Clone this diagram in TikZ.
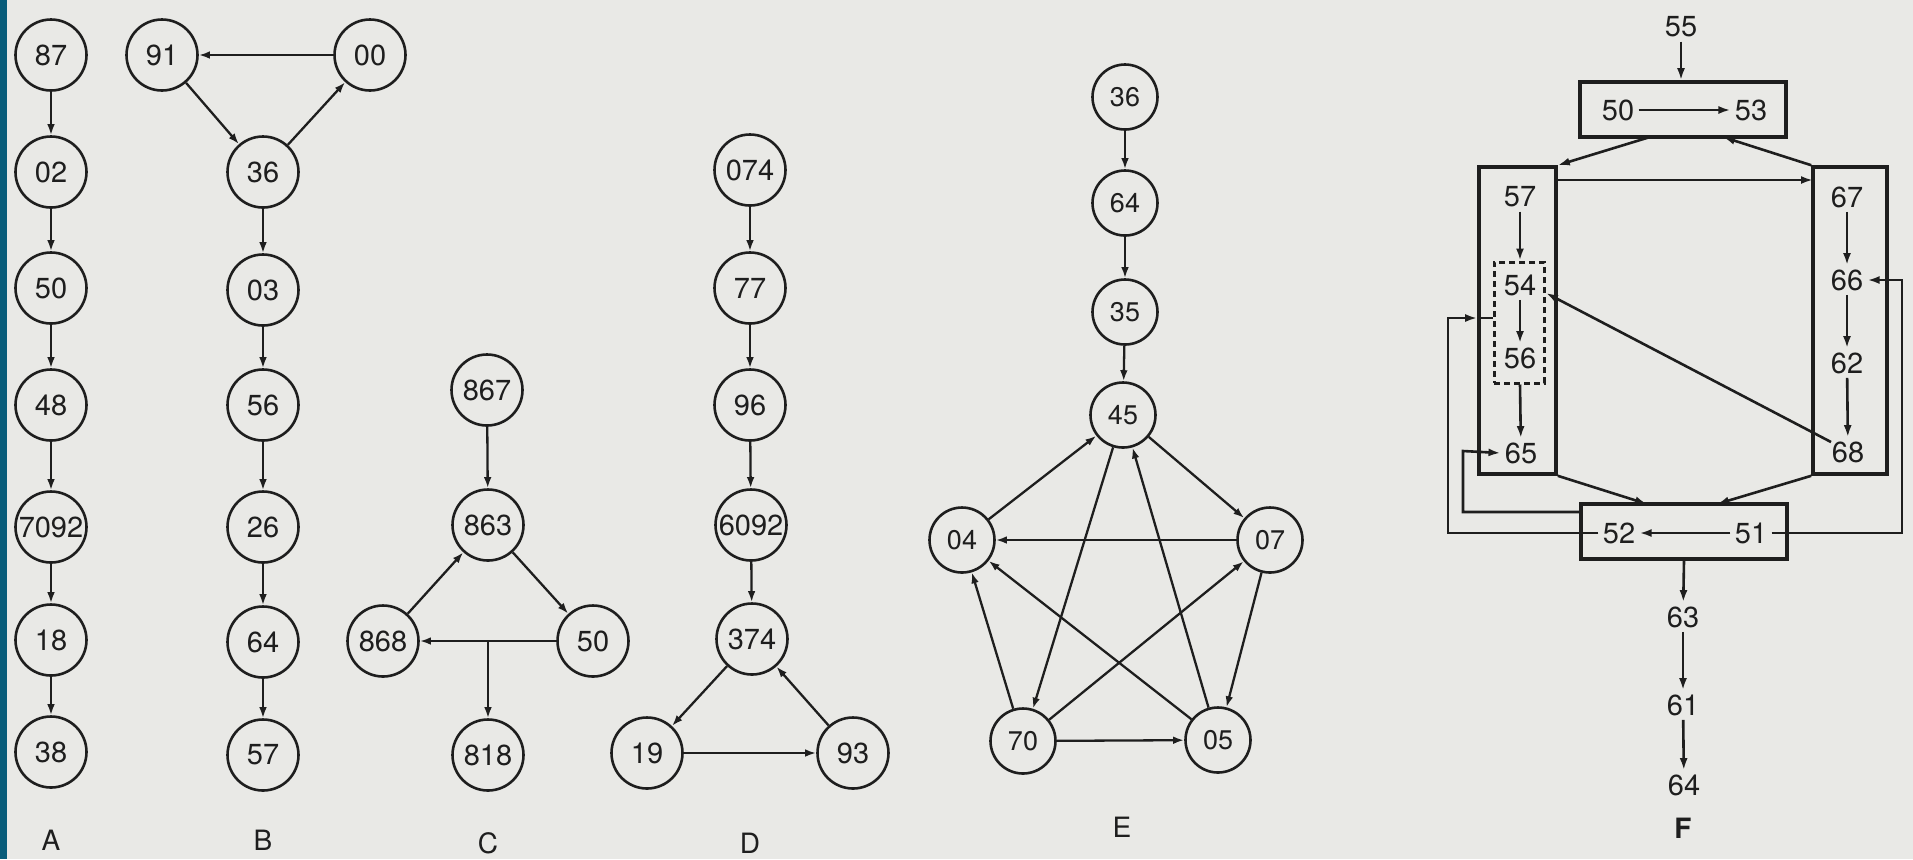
\documentclass[tikz,border=0pt]{standalone}
\usepackage{fontspec}
\setmainfont{TeX Gyre Heros}
\usetikzlibrary{arrows.meta}
\definecolor{paper}{RGB}{233,233,230}
\definecolor{ink}{RGB}{30,30,30}
\definecolor{stripc}{RGB}{8,92,122}
\newcommand\dgfont{\fontsize{14.5}{14.5}\selectfont}
\newcommand\egfont{\fontsize{13.5}{13.5}\selectfont}
\newcommand\ffgfont{\fontsize{14.5}{14.5}\selectfont}
\newcommand\lbfont{\fontsize{14}{14}\selectfont}
\tikzset{
  cn/.style={circle,draw=ink,line width=1.3pt,minimum size=35.5pt,inner sep=0pt,font=\dgfont,text=ink},
  en/.style={cn,minimum size=32.5pt,font=\egfont},
  ft/.style={inner sep=2pt,font=\ffgfont,text=ink},
  lab/.style={font=\lbfont,text=ink},
  edge/.style={draw=ink,line width=1.15pt,-{Latex[length=5.5pt,width=3.8pt]}},
  fbox/.style={draw=ink,line width=1.8pt,inner sep=0pt},
  fedge/.style={draw=ink,line width=1.3pt,-{Latex[length=6pt,width=4pt]}},
  fline/.style={draw=ink,line width=1.3pt},
}
\begin{document}
\begin{tikzpicture}[x=0.5pt,y=-0.5pt]
\useasboundingbox (0,0) rectangle (1913,859);
\fill[paper] (0,0) rectangle (1913,859);
\fill[stripc] (0,0) rectangle (7,859);

% ---------- A ----------
\node[cn] (a87) at (51,55) {87};
\node[cn] (a02) at (51,172) {02};
\node[cn] (a50) at (51,288) {50};
\node[cn] (a48) at (51,405) {48};
\node[cn] (a7092) at (51,527) {7092};
\node[cn] (a18) at (51,640) {18};
\node[cn] (a38) at (51,752) {38};
\node[lab] (la) at (51,840) {A};
\draw[edge] (a87) -- (a02);
\draw[edge] (a02) -- (a50);
\draw[edge] (a50) -- (a48);
\draw[edge] (a48) -- (a7092);
\draw[edge] (a7092) -- (a18);
\draw[edge] (a18) -- (a38);

% ---------- B ----------
\node[cn] (b91) at (162,55) {91};
\node[cn] (b00) at (370,55) {00};
\node[cn] (b36) at (263,172) {36};
\node[cn] (b03) at (263,290) {03};
\node[cn] (b56) at (263,405) {56};
\node[cn] (b26) at (263,527) {26};
\node[cn] (b64) at (263,642) {64};
\node[cn] (b57) at (263,755) {57};
\node[lab] (lb) at (263,840) {B};
\draw[edge] (b00) -- (b91);
\draw[edge] (b91) -- (b36);
\draw[edge] (b36) -- (b00);
\draw[edge] (b36) -- (b03);
\draw[edge] (b03) -- (b56);
\draw[edge] (b56) -- (b26);
\draw[edge] (b26) -- (b64);
\draw[edge] (b64) -- (b57);

% ---------- C ----------
\node[cn] (c867) at (487,390) {867};
\node[cn] (c863) at (488,525) {863};
\node[cn] (c868) at (383,641) {868};
\node[cn] (c50) at (593,641) {50};
\node[cn] (c818) at (488,755) {818};
\node[lab] (lc) at (488,843) {C};
\coordinate (cj) at (c863 |- c50);
\draw[edge] (c867) -- (c863);
\draw[edge] (c868) -- (c863);
\draw[edge] (c863) -- (c50);
\draw[edge] (c50) -- (c868);
\draw[edge] (cj) -- (c818);

% ---------- D ----------
\node[cn] (d074) at (750,170) {074};
\node[cn] (d77) at (750,288) {77};
\node[cn] (d96) at (750,405) {96};
\node[cn] (d6092) at (751,525) {6092};
\node[cn] (d374) at (752,639) {374};
\node[cn] (d19) at (647,753) {19};
\node[cn] (d93) at (853,753) {93};
\node[lab] (ld) at (750,843) {D};
\draw[edge] (d074) -- (d77);
\draw[edge] (d77) -- (d96);
\draw[edge] (d96) -- (d6092);
\draw[edge] (d6092) -- (d374);
\draw[edge] (d374) -- (d19);
\draw[edge] (d19) -- (d93);
\draw[edge] (d93) -- (d374);

% ---------- E ----------
\node[en] (e36) at (1125,97) {36};
\node[en] (e64) at (1125,203) {64};
\node[en] (e35) at (1125,312) {35};
\node[en] (e45) at (1123,415) {45};
\node[en] (e04) at (962,540) {04};
\node[en] (e07) at (1270,540) {07};
\node[en] (e70) at (1023,741) {70};
\node[en] (e05) at (1218,740) {05};
\node[lab] (le) at (1122,827) {E};
\draw[edge] (e36) -- (e64);
\draw[edge] (e64) -- (e35);
\draw[edge] (e35) -- (e45);
\draw[edge] (e04) -- (e45);
\draw[edge] (e45) -- (e07);
\draw[edge] (e07) -- (e04);
\draw[edge] (e45) -- (e70);
\draw[edge] (e05) -- (e45);
\draw[edge] (e70) -- (e04);
\draw[edge] (e05) -- (e04);
\draw[edge] (e70) -- (e07);
\draw[edge] (e07) -- (e05);
\draw[edge] (e70) -- (e05);

% ---------- F ----------
\node[fbox,minimum width=103pt,minimum height=27.5pt] (ftop) at (1683,109.5) {};
\node[fbox,minimum width=38.5pt,minimum height=153.5pt] (flb) at (1517.5,320.5) {};
\node[fbox,minimum width=37pt,minimum height=153.5pt] (frb) at (1850,320.5) {};
\node[fbox,dashed,line width=1.5pt,dash pattern=on 3pt off 2pt,minimum width=25pt,minimum height=60.5pt] (fdb) at (1519,322.5) {};
\node[fbox,minimum width=103pt,minimum height=27.5pt] (fbot) at (1684,531.5) {};

\node[ft] (f55) at (1681,27) {55};
\node[ft] (f50) at (1618,110) {50};
\node[ft] (f53) at (1751,110) {53};
\node[ft] (f57) at (1520,197) {57};
\node[ft] (f54) at (1520,285) {54};
\node[ft] (f56) at (1520,358) {56};
\node[ft] (f65) at (1521,453) {65};
\node[ft] (f67) at (1847,197) {67};
\node[ft] (f66) at (1847,280) {66};
\node[ft] (f62) at (1847,363) {62};
\node[ft] (f68) at (1848,452) {68};
\node[ft] (f52) at (1619,533) {52};
\node[ft] (f51) at (1751,533) {51};
\node[ft] (f63) at (1683,617) {63};
\node[ft] (f61) at (1683,705) {61};
\node[ft] (f64) at (1684,785) {64};
\node[lab,font=\lbfont\bfseries] (lf) at (1683,828) {F};

\coordinate (t1) at (1650,137);
\coordinate (t2) at (1723,137);
\coordinate (b1) at (1647,504);
\coordinate (b2) at (1717,504);
\coordinate (h1) at (1556,180);
\coordinate (h2) at (1813,180);
\coordinate (d1) at (1546,293);
\coordinate (s68) at (1831,442);
\coordinate (r1) at (1902,533);
\coordinate (r2) at (1902,280);
\coordinate (l1) at (1448,533);
\coordinate (l2) at (1448,318);
\coordinate (m1) at (1581,512);
\coordinate (m2) at (1463,512);
\coordinate (m3) at (1463,451);

\draw[fedge] (f55) -- (f55 |- ftop.north);
\draw[fedge] (f50) -- (f53);
\draw[fedge] (t1) -- (flb.north east);
\draw[fedge] (frb.north west) -- (t2);
\draw[fedge] (h1) -- (h2);
\draw[fedge] (f57) -- (f57 |- fdb.north);
\draw[fedge] (f54) -- (f56);
\draw[fedge] (f56 |- fdb.south) -- (f65);
\draw[fedge] (f67) -- (f66);
\draw[fedge] (f66) -- (f62);
\draw[fedge] (f62) -- (f68);
\draw[fedge] (s68) -- (d1);
\draw[fedge] (flb.south east) -- (b1);
\draw[fedge] (frb.south west) -- (b2);
\draw[fedge] (f51) -- (f52);
\draw[fedge] (f51.east) -- (r1) -- (r2) -- (f66.east);
\draw[fedge] (f52.west) -- (l1) -- (l2) -- (l2 -| flb.west);
\draw[fline] (l2 -| flb.west) -- (l2 -| fdb.west);
\draw[fedge] (m1) -- (m2) -- (m3) -- (f65.west);
\draw[fedge] (fbot.south) -- (f63);
\draw[fedge] (f63) -- (f61);
\draw[fedge] (f61) -- (f64);
\end{tikzpicture}
\end{document}
